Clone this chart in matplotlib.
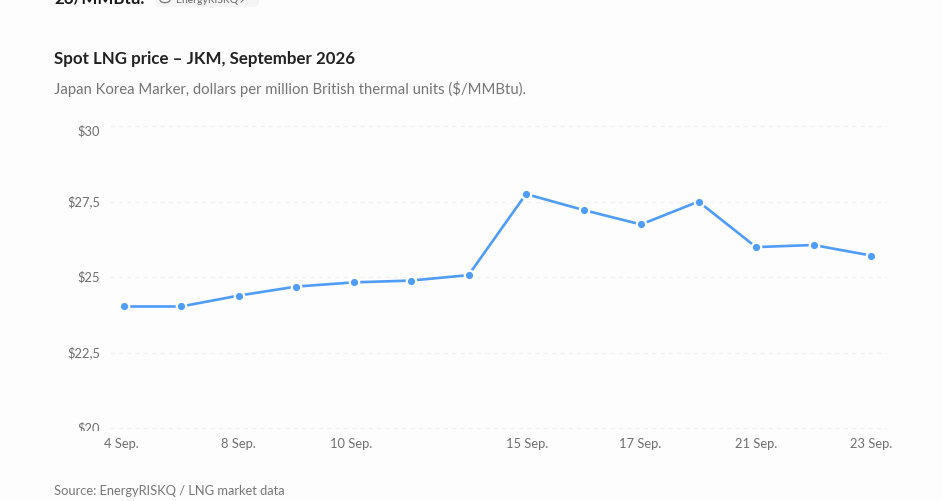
import matplotlib
matplotlib.use('Agg')
import matplotlib.pyplot as plt
from matplotlib.patches import Circle, FancyBboxPatch, Rectangle

# Data
days = ['4 Sep.', '7 Sep.', '8 Sep.', '9 Sep.', '10 Sep.', '11 Sep.', '14 Sep.',
        '15 Sep.', '16 Sep.', '17 Sep.', '18 Sep.', '21 Sep.', '22 Sep.', '23 Sep.']
prices = [24.03, 24.03, 24.39, 24.69, 24.83, 24.89, 25.07,
          27.76, 27.23, 26.75, 27.51, 26.00, 26.07, 25.72]
shown_ticks = ['4 Sep.', '8 Sep.', '10 Sep.', '15 Sep.', '17 Sep.', '21 Sep.', '23 Sep.']
y_ticks = [20, 22.5, 25, 27.5, 30]
y_labels = ['$20', '$22,5', '$25', '$27,5', '$30']

W, H = 942, 501
BG = '#fdfdfd'
BLUE = '#4f9cf9'

plt.rcParams['font.family'] = ['Lato', 'DejaVu Sans']

fig = plt.figure(figsize=(W / 100, H / 100), dpi=100, facecolor=BG)

# Axes box in pixels: x index 0 -> 123.5, index 13 -> 871, $20 -> 428, $30 -> 126.5
step = (871 - 123.5) / 13
x0 = 110
x1 = 886
ax = fig.add_axes([x0 / W, 1 - 428 / H, (x1 - x0) / W, (428 - 126.5) / H], facecolor='none')
ax.set_xlim((x0 - 123.5) / step, (x1 - 123.5) / step)
ax.set_ylim(20, 30)

for s in ax.spines.values():
    s.set_visible(False)

ax.set_yticks(y_ticks)
ax.set_yticklabels([])
ax.tick_params(length=0)
ax.set_xticks([])
for v in y_ticks:
    ax.axhline(v, color='#f1f1f1', lw=1, ls=(0, (3, 3)), zorder=0, clip_on=False)

# y labels: centred on the gridlines, only the top one is pushed down
for v, lab in zip(y_ticks, y_labels):
    off = -4.5 if v == 30 else 0
    ax.annotate(lab, (0, v), xycoords=('axes fraction', 'data'), xytext=(-10, off),
                textcoords='offset pixels', ha='right', va='center',
                fontsize=9.3, color='#6f6f6f')

# Band that cuts the bottom of the $20 label
fig.add_artist(Rectangle((60 / W, 1 - 443 / H), 42 / W, 12 / H, transform=fig.transFigure,
                         fc=BG, ec='none', zorder=4))

# x labels are not quite evenly placed in the original
label_nudge = [-2, 0, -2, 1, -1, 0, 0]
for d, nudge in zip(shown_ticks, label_nudge):
    ax.annotate(d, (days.index(d), 0), xycoords=('data', 'axes fraction'), xytext=(nudge, -15.5),
                textcoords='offset pixels', ha='center', va='center',
                fontsize=9.3, color='#6f6f6f', zorder=5)

# Line with white halo round the markers
ax.plot(range(len(days)), prices, color=BLUE, lw=1.9, zorder=3, clip_on=False)
ax.plot(range(len(days)), prices, ls='none', marker='o', ms=6.8, mfc=BLUE,
        mec='white', mew=1.6, zorder=4, clip_on=False)

fig.text(54 / W, 1 - 59 / H, 'Spot LNG price – JKM, September 2026', fontsize=12.2,
         fontweight='bold', color='#222222', va='center')
fig.text(54 / W, 1 - 89 / H, 'Japan Korea Marker, dollars per million British thermal units ($/MMBtu).',
         fontsize=10.75, color='#757575', va='center')
fig.text(54 / W, 1 - 491 / H, 'Source: EnergyRISKQ / LNG market data', fontsize=9.32,
         color='#777777', va='center')

# Cropped line of the previous paragraph at the very top
fig.text(54 / W, 1 - 4 / H, '26/MMBtu.', fontsize=12.2, fontweight='bold', color='#1a1a1a', va='baseline')
fig.add_artist(FancyBboxPatch((155 / W, 1 - 7 / H), 104 / W, 16 / H,
                              boxstyle='round,pad=0,rounding_size=0.008',
                              transform=fig.transFigure, fc='#f5f5f5', ec='none'))
fig.add_artist(Circle((165 / W, 1 + 0 / H), 5 / W, transform=fig.transFigure,
                      fc='none', ec='#777777', lw=0.9))
fig.text(176 / W, 1 - 0.5 / H, 'EnergyRISKQ', fontsize=7.5, color='#666666', va='center')
fig.text(240 / W, 1 - 0.5 / H, '↗', fontsize=7.5, color='#666666', va='center')

fig.savefig('out.png', dpi=100, facecolor=BG)
